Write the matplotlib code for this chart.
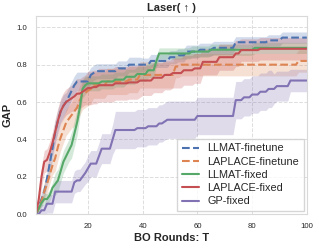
import matplotlib
matplotlib.use("Agg")
import matplotlib.pyplot as plt
import numpy as np
import seaborn as sns

# BO rounds and best-so-far GAP, stored as change points (round, value)
rounds = np.arange(1, 101)

llmat_ft_x = [1, 2, 3, 4, 5, 6, 7, 8, 9, 10, 11, 12, 13, 14, 15, 16, 21, 22, 23, 31, 35, 43, 50, 53, 56, 61, 66, 74, 86, 91]
llmat_ft_y = [0.0, 0.04, 0.08, 0.12, 0.19, 0.27, 0.35, 0.44, 0.50, 0.55, 0.58, 0.60, 0.63, 0.66, 0.69, 0.71, 0.745, 0.755, 0.765,
              0.78, 0.80, 0.82, 0.84, 0.85, 0.87, 0.88, 0.89, 0.92, 0.93, 0.945]
llmat_ft_sx = [1, 3, 6, 12, 21, 40, 74]
llmat_ft_s = [0.02, 0.04, 0.06, 0.05, 0.04, 0.035, 0.03]

laplace_ft_x = [1, 2, 3, 4, 5, 6, 7, 8, 9, 10, 11, 12, 13, 14, 15, 16, 17, 18, 19, 20, 21, 22, 27, 35, 39, 52, 54, 97]
laplace_ft_y = [0.0, 0.03, 0.07, 0.12, 0.16, 0.21, 0.26, 0.30, 0.36, 0.41, 0.45, 0.49, 0.51, 0.53, 0.55, 0.57, 0.61, 0.64, 0.65,
                0.66, 0.67, 0.69, 0.71, 0.72, 0.745, 0.79, 0.80, 0.82]
laplace_ft_sx = [1, 4, 8, 15, 22, 52]
laplace_ft_s = [0.02, 0.05, 0.07, 0.08, 0.07, 0.06]

llmat_fx_x = [1, 2, 3, 4, 6, 7, 8, 9, 10, 11, 12, 13, 14, 15, 16, 17, 18, 19, 20, 25, 30, 34, 38, 42, 45, 46, 58, 65, 81]
llmat_fx_y = [0.0, 0.03, 0.06, 0.08, 0.10, 0.14, 0.16, 0.18, 0.23, 0.28, 0.31, 0.34, 0.37, 0.43, 0.49, 0.57, 0.67, 0.69, 0.70,
              0.71, 0.72, 0.735, 0.75, 0.77, 0.82, 0.86, 0.87, 0.88, 0.89]
llmat_fx_sx = [1, 4, 8, 14, 17, 20, 45]
llmat_fx_s = [0.02, 0.03, 0.06, 0.07, 0.05, 0.04, 0.03]

laplace_fx_x = [1, 2, 3, 4, 5, 6, 7, 8, 9, 10, 11, 12, 13, 14, 15, 16, 18, 19, 20, 22, 24, 30, 35, 39, 44, 48, 51, 55, 59, 62,
                68, 74, 76, 83]
laplace_fx_y = [0.0, 0.08, 0.20, 0.28, 0.29, 0.33, 0.38, 0.44, 0.50, 0.55, 0.58, 0.60, 0.61, 0.62, 0.63, 0.645, 0.655, 0.665,
                0.675, 0.68, 0.69, 0.70, 0.705, 0.715, 0.73, 0.745, 0.755, 0.77, 0.78, 0.815, 0.84, 0.86, 0.878, 0.885]
laplace_fx_sx = [1, 3, 8, 15, 20, 40, 62, 76]
laplace_fx_s = [0.02, 0.06, 0.07, 0.08, 0.09, 0.08, 0.07, 0.06]

gp_x = [1, 3, 5, 8, 15, 16, 18, 19, 20, 21, 24, 25, 29, 30, 38, 42, 46, 48, 49, 60, 74, 77, 80, 83, 86, 89, 94]
gp_y = [0.0, 0.02, 0.055, 0.12, 0.17, 0.18, 0.20, 0.22, 0.245, 0.27, 0.31, 0.35, 0.40, 0.45, 0.46, 0.47, 0.485, 0.495, 0.505,
        0.525, 0.61, 0.625, 0.64, 0.655, 0.67, 0.685, 0.715]
gp_sx = [1, 3, 5, 8, 20, 25, 30, 80, 88, 94]
gp_s = [0.01, 0.03, 0.05, 0.06, 0.07, 0.08, 0.10, 0.10, 0.08, 0.06]

labels = ["LLMAT-finetune", "LAPLACE-finetune", "LLMAT-fixed", "LAPLACE-fixed", "GP-fixed"]


def hold(xs, ys):
    """best-so-far values are held between change points"""
    idx = np.searchsorted(xs, rounds, side="right") - 1
    return np.asarray(ys)[idx]


sns.set_style("whitegrid", {"grid.linestyle": "--", "axes.edgecolor": ".85"})
plt.rcParams["font.family"] = ["Liberation Sans", "DejaVu Sans"]

palette = sns.color_palette("deep")
series = [
    (llmat_ft_x, llmat_ft_y, llmat_ft_sx, llmat_ft_s, palette[0], "--"),
    (laplace_ft_x, laplace_ft_y, laplace_ft_sx, laplace_ft_s, palette[1], "--"),
    (llmat_fx_x, llmat_fx_y, llmat_fx_sx, llmat_fx_s, palette[2], "-"),
    (laplace_fx_x, laplace_fx_y, laplace_fx_sx, laplace_fx_s, palette[3], "-"),
    (gp_x, gp_y, gp_sx, gp_s, palette[4], "-"),
]

fig = plt.figure(figsize=(3.19, 2.48), dpi=100)
ax = fig.add_axes([0.113, 0.137, 0.849, 0.798])

for (xs, ys, sxs, ss, color, ls), label in zip(series, labels):
    mean = hold(xs, ys)
    std = hold(sxs, ss)
    ax.plot(rounds, mean, ls, color=color, lw=1.5, label=label)
    ax.fill_between(rounds, mean - std, mean + std, color=color, alpha=0.25, lw=0)

ax.set_xlim(1, 100)
ax.set_ylim(0, 1.06)
ax.set_xticks([20, 40, 60, 80, 100])
ax.set_yticks([0.0, 0.2, 0.4, 0.6, 0.8, 1.0])
ax.tick_params(labelsize=5.6, pad=3)
ax.grid(True, color="#dddddd", lw=0.7)

ax.set_title("Laser( \u2191 )", fontsize=8, fontweight="bold", pad=4)
ax.set_xlabel("BO Rounds: T", fontsize=8, fontweight="bold", labelpad=2)
ax.set_ylabel("GAP", fontsize=8, fontweight="bold", labelpad=3)

ax.legend(loc="lower right", fontsize=7.8, handlelength=1.6, labelspacing=0.3,
          borderaxespad=0.3, frameon=True, fancybox=False, edgecolor="#cccccc")

fig.savefig("out.png", dpi=100)
